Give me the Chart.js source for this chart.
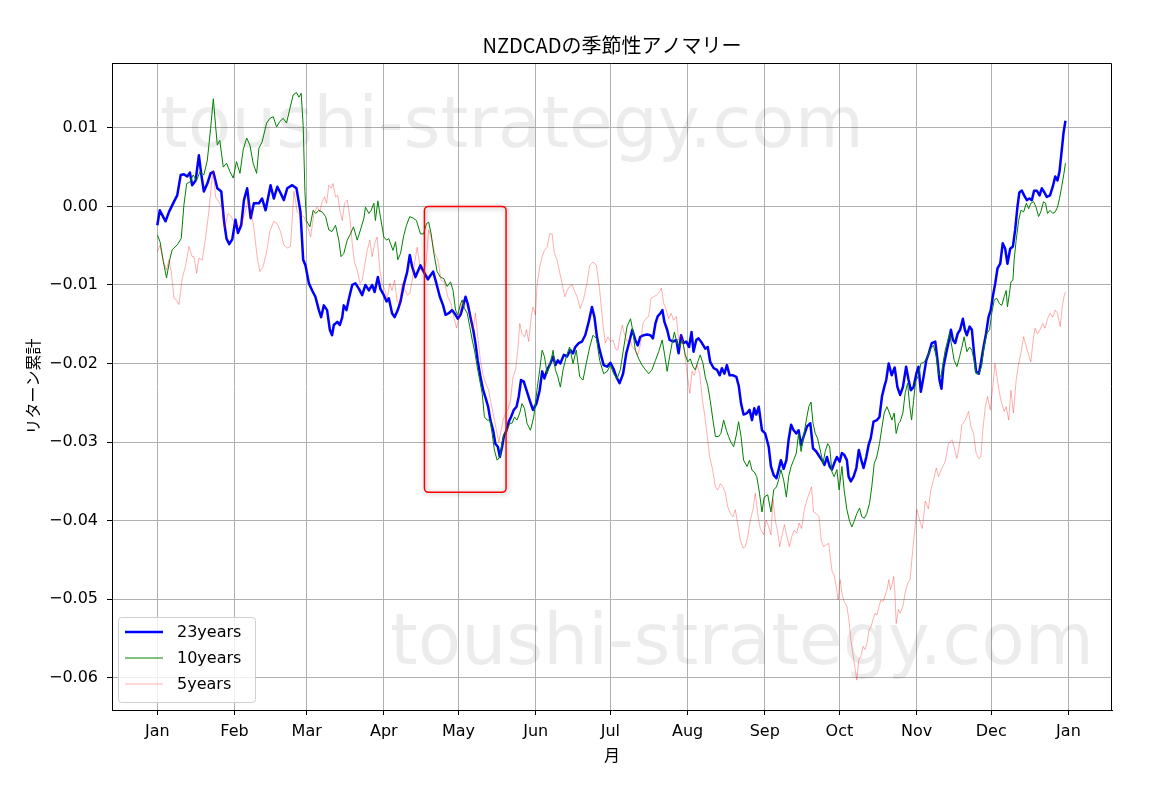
<!DOCTYPE html>
<html>
<head>
<meta charset="utf-8">
<script src="https://cdn.jsdelivr.net/npm/chart.js@4.4.0/dist/chart.umd.min.js"></script>
<style>
  body { margin: 0; background: #fff; }
  #wrap { width: 1156px; height: 789px; }
</style>
</head>
<body>
<div id="wrap"><canvas id="lineChart"></canvas></div>
<script>
// month ticks (day of year, leap year)
const monthLabels = ["Jan","Feb","Mar","Apr","May","Jun","Jul","Aug","Sep","Oct","Nov","Dec","Jan"];
const monthDays = [0, 31, 60, 91, 121, 152, 182, 213, 244, 274, 305, 335, 366];
const yTicks = [0.01, 0.00, -0.01, -0.02, -0.03, -0.04, -0.05, -0.06];

// 23 years
const days23 = [
  0,1,3.3,4.7,6.7,8,9.4,10.7,12,13.1,14,15.4,16.7,17.7,18.7,20.1,21.4,22.5,24.1,25.7,
  26.8,27.8,28.9,30.1,31.4,32.4,33.7,34.8,36.1,37.5,38.8,40.8,42.1,43.5,45.5,46.8,48.2,49.5,50.8,52.2,
  54.2,55.9,57.5,58.6,59.5,60.9,62.2,63.5,64.9,65.8,66.9,68.2,69.3,70.2,70.9,72.3,73.3,74.3,74.9,76,
  77,78.3,79.6,81,82.3,83.6,85,86.3,87.3,88.6,89.6,91,92.1,93,94.3,95.3,96.6,97.7,99,100.4,
  101.4,102.4,103.7,105.7,107,108.7,109.7,110.8,112.1,113.5,114.8,115.8,117.1,118.4,119.8,120.7,121.8,122.9,123.8,124.7,
  125.8,126.9,127.8,128.7,129.8,130.9,131.9,132.9,133.8,134.9,135.8,136.8,137.6,138.5,139.2,140.3,141.2,142.1,143.2,144.3,
  145.2,146.1,147.2,148.3,149.6,150.9,152.3,153.6,154.6,155.5,156.6,157.9,159,159.9,160.9,161.9,163.3,164.6,165.9,167,
  167.9,169.3,170.6,171.9,173.3,174.6,175.6,176.6,177.7,179.3,180.7,182,183.3,184.4,185.7,187.1,188.4,189.8,190.8,192,
  193,194,195.4,196.7,198.1,199.1,200.1,201,202.1,202.9,203.7,204.8,205.8,207.2,208.5,209.4,210.4,211.4,212.5,213.6,
  214.6,215.4,216.5,217.4,218.8,220.1,221.1,222.1,223.5,224.8,225.9,226.8,227.8,228.8,229.9,231.3,232.6,233.6,234.5,235.5,
  236.9,237.9,238.9,239.8,240.6,241.6,242.9,244.2,245.6,246.5,247.6,248.7,249.6,250.5,251.6,252.7,253.6,254.6,255.6,256.7,
  257.6,258.6,259.6,261,262.3,263.4,264.7,266.1,267,268,269,270.1,271,271.9,273,274.1,275,275.9,277,277.7,
  278.6,279.7,280.8,281.8,282.8,283.7,284.8,285.7,286.6,287.7,289.1,290.1,291.1,292,292.8,293.8,295,296.2,297.3,298.4,
  299.5,300.8,301.8,302.7,303.8,304.9,305.8,306.7,307.8,308.9,309.9,311.1,312.5,313.4,314.2,315,315.8,316.9,317.8,318.8,
  319.6,320.5,321.5,322.5,323.6,324.4,325.2,326.3,327.2,328.1,328.9,330,330.8,331.9,332.9,333.9,334.8,335.6,336.6,337.5,
  338.6,339.6,340.6,341.5,342.6,343.7,344.6,345.5,346.3,347.3,348.2,349.3,350.3,351.3,352.2,353.3,354.4,355.3,356.3,357.3,
  358.6,359.7,360.7,361.6,362.4,363.3,364,364.8
];
const ret23 = [
  -0.0024,-0.0005,-0.0019,-0.0007,0.0006,0.0014,0.0040,0.0041,0.0038,0.0043,0.0027,0.0033,0.0065,0.0040,0.0019,0.0029,0.0042,0.0044,0.0023,0.0019,
  -0.0019,-0.0041,-0.0048,-0.0042,-0.0017,-0.0034,-0.0024,0.0008,0.0023,-0.0015,0.0004,0.0004,0.0010,-0.0005,0.0027,0.0010,0.0025,0.0017,0.0008,0.0023,
  0.0027,0.0023,-0.0007,-0.0068,-0.0075,-0.0098,-0.0107,-0.0115,-0.0132,-0.0141,-0.0126,-0.0132,-0.0157,-0.0164,-0.0151,-0.0147,-0.0151,-0.0141,-0.0126,-0.0132,
  -0.0117,-0.0100,-0.0098,-0.0105,-0.0113,-0.0100,-0.0107,-0.0100,-0.0109,-0.0090,-0.0105,-0.0113,-0.0121,-0.0117,-0.0136,-0.0141,-0.0132,-0.0121,-0.0100,-0.0083,
  -0.0062,-0.0077,-0.0090,-0.0075,-0.0083,-0.0093,-0.0088,-0.0083,-0.0098,-0.0115,-0.0126,-0.0138,-0.0136,-0.0132,-0.0138,-0.0143,-0.0138,-0.0126,-0.0115,-0.0124,
  -0.0141,-0.0157,-0.0174,-0.0196,-0.0217,-0.0234,-0.0244,-0.0255,-0.0272,-0.0285,-0.0302,-0.0306,-0.0319,-0.0306,-0.0293,-0.0285,-0.0274,-0.0268,-0.0259,-0.0255,
  -0.0242,-0.0221,-0.0223,-0.0234,-0.0247,-0.0259,-0.0251,-0.0234,-0.0210,-0.0219,-0.0208,-0.0200,-0.0191,-0.0202,-0.0196,-0.0200,-0.0189,-0.0191,-0.0183,-0.0187,
  -0.0179,-0.0174,-0.0172,-0.0164,-0.0147,-0.0128,-0.0141,-0.0166,-0.0183,-0.0202,-0.0204,-0.0199,-0.0207,-0.0217,-0.0225,-0.0213,-0.0187,-0.0170,-0.0157,-0.0170,
  -0.0177,-0.0166,-0.0164,-0.0163,-0.0164,-0.0168,-0.0149,-0.0140,-0.0136,-0.0132,-0.0147,-0.0157,-0.0170,-0.0172,-0.0170,-0.0187,-0.0164,-0.0174,-0.0172,-0.0179,
  -0.0160,-0.0185,-0.0170,-0.0168,-0.0174,-0.0181,-0.0179,-0.0198,-0.0206,-0.0208,-0.0215,-0.0206,-0.0213,-0.0202,-0.0215,-0.0215,-0.0217,-0.0229,-0.0251,-0.0265,
  -0.0263,-0.0259,-0.0272,-0.0257,-0.0265,-0.0255,-0.0285,-0.0289,-0.0306,-0.0331,-0.0342,-0.0346,-0.0335,-0.0323,-0.0334,-0.0323,-0.0297,-0.0278,-0.0285,-0.0289,
  -0.0285,-0.0304,-0.0293,-0.0280,-0.0276,-0.0308,-0.0312,-0.0319,-0.0323,-0.0329,-0.0319,-0.0331,-0.0335,-0.0327,-0.0319,-0.0325,-0.0314,-0.0316,-0.0323,-0.0344,
  -0.0350,-0.0344,-0.0333,-0.0310,-0.0323,-0.0333,-0.0319,-0.0304,-0.0295,-0.0274,-0.0272,-0.0268,-0.0242,-0.0230,-0.0221,-0.0200,-0.0215,-0.0205,-0.0230,-0.0240,
  -0.0230,-0.0204,-0.0221,-0.0234,-0.0230,-0.0213,-0.0204,-0.0236,-0.0217,-0.0196,-0.0187,-0.0174,-0.0172,-0.0196,-0.0221,-0.0232,-0.0204,-0.0187,-0.0174,-0.0157,
  -0.0170,-0.0174,-0.0162,-0.0157,-0.0143,-0.0157,-0.0164,-0.0153,-0.0157,-0.0187,-0.0210,-0.0213,-0.0200,-0.0179,-0.0162,-0.0141,-0.0132,-0.0115,-0.0098,-0.0079,
  -0.0073,-0.0047,-0.0054,-0.0073,-0.0054,-0.0051,-0.0030,-0.0001,0.0018,0.0020,0.0014,0.0008,0.0010,0.0008,0.0020,0.0020,0.0014,0.0023,0.0018,0.0012,
  0.0014,0.0025,0.0038,0.0033,0.0044,0.0071,0.0093,0.0109
];

// 10 years
const days10 = [
  0,1.1,2.4,3.7,5.1,6,8,9.6,10.7,11.8,13.1,14.4,15.8,17.1,18.7,20.1,21.4,22.5,23.4,24.1,
  25.1,26.5,27.8,29.2,30.5,31.8,33.2,34.5,35.9,37.2,38.5,39.9,40.8,42.1,43.9,45.2,46.6,47.9,49.2,50.6,
  51.9,53.3,54.6,55.9,56.9,57.8,58.6,59.3,59.9,61.3,62.6,63.6,64.9,66.2,67.6,68.9,70.2,71.6,72.9,73.8,
  74.9,76.3,77.6,78.8,80.3,81.6,83,83.6,85,85.9,87,87.6,88.6,89.6,91,92.1,93,93.6,94.7,95.7,
  96.6,97.7,99,100.1,101.4,102.8,104.1,105.7,107,108.1,109,110,111.1,112.4,113.7,115.1,116.4,117.8,118.8,119.8,
  120.7,121.8,122.5,123.4,124.5,125.5,126.5,127.4,128.5,129.5,130.5,131.4,132.5,133.6,134.5,135.4,136.5,137.6,138.5,139.4,
  140.5,141.6,142.5,143.5,144.5,145.6,146.5,147.5,148.5,149.9,151.2,152.5,153.6,154.6,155.5,156.6,157.9,159,159.9,160.9,
  161.9,163,164.3,165.6,167,168.3,169.7,171,172.3,173.7,175,176.4,177.7,179.3,180.7,182,183.3,184.7,186,187.4,
  188.7,190.1,191.1,192,193.4,194.7,196.1,197.4,198.7,200.1,201.4,202.8,203.7,204.8,205.8,206.8,207.7,208.8,209.8,210.9,
  212.1,213.1,214.1,215.2,216.1,217.1,218.1,219.2,220.1,221.1,222.1,223.2,224.2,225.5,226.4,227.5,228.6,229.5,230.4,231.5,
  232.6,233.5,234.5,235.5,236.9,237.9,238.9,239.8,240.8,241.9,242.9,243.8,245.2,246.5,247.6,248.7,249.6,250.5,251.6,252.7,
  253.6,254.6,255.6,256.7,257.6,258.6,259.6,260.7,261.7,262.6,263.4,264.3,265.2,266.3,267.4,268.3,269.3,270.1,271,271.9,
  273,273.9,275,275.9,277,278.1,279,279.9,281,282.1,283,284,285,286.1,287,288,289,290.1,291,292,
  293.1,294.1,295.1,296,296.8,297.8,298.4,299.5,300.4,301.4,302.2,303,303.8,304.6,305.8,306.7,308.1,309.4,310.7,311.8,
  312.9,313.8,314.8,315.6,316.5,317.4,318.2,319.2,320.1,321.2,322.3,323.2,324.1,325.2,326.3,327.2,328.1,328.9,330,331.1,
  332.1,333.2,334.3,335.2,336.2,337.2,338.3,339.2,340.2,341,341.5,342.3,342.9,343.7,344.2,345,346,346.9,348,349.1,
  350,350.9,352,353,354,354.9,356,356.8,357.6,358.6,359.7,360.7,361.6,362.4,363.3,364.2,364.8
];
const ret10 = [
  -0.0036,-0.0045,-0.0070,-0.0091,-0.0066,-0.0055,-0.0049,-0.0041,0.0002,0.0029,0.0031,0.0040,0.0033,0.0044,0.0040,0.0059,0.0099,0.0137,0.0103,0.0078,
  0.0084,0.0050,0.0055,0.0044,0.0036,0.0057,0.0042,0.0072,0.0087,0.0078,0.0055,0.0042,0.0074,0.0082,0.0106,0.0112,0.0114,0.0101,0.0108,0.0112,
  0.0106,0.0125,0.0142,0.0145,0.0139,0.0144,0.0103,0.0019,-0.0018,-0.0026,-0.0005,-0.0009,-0.0005,-0.0007,-0.0013,-0.0030,-0.0032,-0.0024,-0.0043,-0.0064,
  -0.0060,-0.0043,-0.0035,-0.0026,-0.0043,-0.0030,-0.0015,-0.0001,-0.0009,-0.0005,0.0004,-0.0018,0.0007,-0.0013,-0.0039,-0.0043,-0.0041,-0.0047,-0.0056,-0.0045,
  -0.0068,-0.0060,-0.0037,-0.0024,-0.0013,-0.0015,-0.0018,-0.0035,-0.0035,-0.0022,-0.0020,-0.0035,-0.0060,-0.0083,-0.0090,-0.0092,-0.0102,-0.0096,-0.0107,-0.0132,
  -0.0138,-0.0124,-0.0119,-0.0130,-0.0136,-0.0153,-0.0170,-0.0183,-0.0204,-0.0221,-0.0238,-0.0268,-0.0272,-0.0272,-0.0289,-0.0310,-0.0323,-0.0319,-0.0300,-0.0289,
  -0.0285,-0.0276,-0.0276,-0.0268,-0.0272,-0.0263,-0.0251,-0.0257,-0.0276,-0.0285,-0.0268,-0.0234,-0.0208,-0.0183,-0.0191,-0.0213,-0.0200,-0.0183,-0.0208,-0.0217,
  -0.0230,-0.0208,-0.0191,-0.0179,-0.0200,-0.0183,-0.0217,-0.0221,-0.0200,-0.0179,-0.0164,-0.0168,-0.0196,-0.0213,-0.0210,-0.0202,-0.0213,-0.0219,-0.0208,-0.0179,
  -0.0153,-0.0143,-0.0160,-0.0183,-0.0194,-0.0202,-0.0208,-0.0213,-0.0208,-0.0196,-0.0185,-0.0170,-0.0187,-0.0210,-0.0191,-0.0174,-0.0160,-0.0174,-0.0179,-0.0170,
  -0.0189,-0.0198,-0.0194,-0.0204,-0.0208,-0.0198,-0.0189,-0.0200,-0.0217,-0.0228,-0.0247,-0.0272,-0.0293,-0.0293,-0.0289,-0.0272,-0.0285,-0.0293,-0.0300,-0.0306,
  -0.0291,-0.0274,-0.0293,-0.0323,-0.0331,-0.0323,-0.0336,-0.0338,-0.0344,-0.0365,-0.0389,-0.0370,-0.0367,-0.0389,-0.0361,-0.0357,-0.0348,-0.0335,-0.0348,-0.0370,
  -0.0344,-0.0331,-0.0323,-0.0314,-0.0289,-0.0312,-0.0293,-0.0272,-0.0255,-0.0249,-0.0276,-0.0289,-0.0295,-0.0310,-0.0327,-0.0312,-0.0302,-0.0306,-0.0338,-0.0344,
  -0.0335,-0.0361,-0.0331,-0.0361,-0.0386,-0.0401,-0.0408,-0.0401,-0.0391,-0.0384,-0.0395,-0.0397,-0.0391,-0.0378,-0.0357,-0.0327,-0.0319,-0.0302,-0.0283,-0.0263,
  -0.0255,-0.0263,-0.0272,-0.0263,-0.0289,-0.0276,-0.0274,-0.0263,-0.0238,-0.0225,-0.0253,-0.0272,-0.0247,-0.0223,-0.0215,-0.0200,-0.0198,-0.0191,-0.0181,-0.0177,
  -0.0191,-0.0213,-0.0217,-0.0200,-0.0183,-0.0172,-0.0162,-0.0179,-0.0196,-0.0204,-0.0191,-0.0179,-0.0166,-0.0185,-0.0179,-0.0183,-0.0196,-0.0213,-0.0213,-0.0204,
  -0.0179,-0.0162,-0.0157,-0.0136,-0.0119,-0.0117,-0.0124,-0.0126,-0.0115,-0.0107,-0.0128,-0.0111,-0.0096,-0.0094,-0.0068,-0.0043,-0.0018,-0.0005,-0.0007,0.0004,
  -0.0003,0.0004,0.0006,-0.0001,-0.0013,-0.0007,0.0006,0.0004,-0.0009,-0.0005,-0.0009,-0.0007,-0.0001,0.0010,0.0025,0.0042,0.0055
];

// 5 years
const days5 = [
  0,1.1,2.4,3.7,4.7,5.6,6.7,7.7,8.7,10,11.4,12.7,14,14.7,15.8,16.7,18.1,19.4,20.7,21.7,
  22.5,23.4,24.7,26.1,27,28.4,29.7,31,32.4,33.7,35.1,36.4,37.5,38.8,40.1,41.2,42.5,43.9,45.2,46.8,
  48.2,49.5,50.8,52.2,53.5,54.9,56.2,57.5,58.9,60.2,61.6,62.9,64.2,65.3,66.2,67.2,68,68.9,69.9,70.6,
  71.6,72.5,73.3,74.3,75.2,76.3,77.3,78.3,79.2,80.3,81.4,82.3,83.2,84.3,85.4,86.3,87.3,88.3,89.4,90.3,
  91.3,92.3,93.4,94.3,95.3,96.3,97.3,98.4,99.3,100.4,101.4,102.4,103.3,104.4,105.7,107,108.1,109,110,111.3,
  112.7,114,115.3,116.7,118,119.1,120.2,121.2,122.5,123.4,124.5,125.8,126.9,127.8,128.7,129.8,130.9,131.9,133.1,134.1,
  135.2,136.2,137.2,138.1,138.9,139.9,140.8,141.9,142.9,143.9,144.8,145.6,146.5,147.5,148.3,149.2,150.2,150.9,151.9,152.5,
  153.6,154.6,155.5,156.6,157.6,158.6,159.5,160.6,161.7,162.6,163.7,164.6,165.6,166.7,167.5,168.6,169.9,171.3,172.6,173.7,
  175,176.4,177.7,179.1,180,181,182,183.1,184,185,185.8,186.8,187.6,188.7,189.8,190.8,192,193,194,195.1,
  196.2,197.4,198.3,199.4,200.5,201.5,202.5,203.4,204.5,205.4,206.4,207.4,208.5,209.4,210.4,211.4,212.3,213.1,213.9,214.8,
  215.7,216.8,217.9,218.8,219.8,220.8,221.9,223,224.2,225.1,226.2,227.2,228.2,229.1,230.2,231.2,232.2,233.1,234.2,235.3,
  236.2,237.2,238.2,239.3,240.2,241.2,242.2,243.6,244.6,245.6,246.5,247.3,248.2,249.2,250,250.9,251.9,252.9,253.9,254.9,
  255.9,256.9,257.8,258.8,259.9,260.9,261.9,262.8,263.6,264.7,265.8,266.7,267.6,268.7,269.7,270.3,271.1,271.9,272.7,273.5,
  274.3,275,275.9,277,277.8,278.6,279.4,280.2,281,281.8,282.6,283.5,284.3,285.1,285.9,286.7,287.5,288.3,289.1,289.9,
  290.7,291.5,292.3,293.1,293.9,294.5,295.1,295.8,296.3,296.8,297.7,298.4,299.5,300.4,301.4,302.4,303.2,304,305.1,306.2,
  307.3,308.5,309.7,310.8,311.8,312.9,313.8,315.2,316.5,317.8,319.2,320.1,321.2,322.3,323.2,324.5,325.9,326.8,327.9,328.9,
  330,330.8,331.6,332.6,333.5,334.6,335.6,336.5,337.3,338.3,339.2,340.2,341,342,342.9,343.9,345,346,346.9,348,
  349.1,350,350.9,351.7,352.6,353.6,354.6,355.7,356.6,357.6,358.6,359.7,360.7,361.6,362.7,363.5,364.2,364.8
];
const ret5 = [
  -0.0058,-0.0049,-0.0070,-0.0081,-0.0068,-0.0083,-0.0117,-0.0119,-0.0125,-0.0092,-0.0075,-0.0051,-0.0064,-0.0064,-0.0085,-0.0066,-0.0068,-0.0039,-0.0007,0.0027,
  0.0046,0.0012,0.0006,-0.0003,-0.0028,-0.0009,-0.0013,-0.0022,-0.0024,-0.0024,-0.0009,0.0006,-0.0003,-0.0028,-0.0064,-0.0083,-0.0077,-0.0058,-0.0032,-0.0019,
  -0.0022,-0.0032,-0.0049,-0.0053,-0.0051,0.0019,-0.0007,-0.0011,-0.0013,-0.0024,-0.0039,-0.0009,-0.0001,-0.0007,0.0006,0.0012,0.0004,0.0027,0.0023,0.0029,
  0.0012,0.0014,-0.0005,-0.0018,0.0004,0.0008,-0.0013,-0.0047,-0.0071,-0.0081,-0.0098,-0.0094,-0.0077,-0.0056,-0.0043,-0.0064,-0.0047,-0.0039,-0.0081,-0.0098,
  -0.0105,-0.0117,-0.0098,-0.0107,-0.0094,-0.0121,-0.0124,-0.0098,-0.0105,-0.0113,-0.0111,-0.0094,-0.0073,-0.0052,-0.0080,-0.0085,-0.0068,-0.0030,-0.0039,-0.0058,
  -0.0068,-0.0094,-0.0096,-0.0115,-0.0124,-0.0141,-0.0155,-0.0141,-0.0121,-0.0124,-0.0128,-0.0141,-0.0157,-0.0136,-0.0166,-0.0196,-0.0215,-0.0225,-0.0234,-0.0251,
  -0.0268,-0.0285,-0.0300,-0.0285,-0.0272,-0.0263,-0.0259,-0.0247,-0.0217,-0.0208,-0.0183,-0.0149,-0.0162,-0.0166,-0.0157,-0.0172,-0.0141,-0.0128,-0.0138,-0.0102,
  -0.0077,-0.0064,-0.0056,-0.0052,-0.0035,-0.0035,-0.0060,-0.0068,-0.0085,-0.0098,-0.0115,-0.0107,-0.0102,-0.0100,-0.0107,-0.0115,-0.0130,-0.0117,-0.0098,-0.0075,
  -0.0071,-0.0075,-0.0107,-0.0153,-0.0174,-0.0166,-0.0172,-0.0170,-0.0181,-0.0183,-0.0166,-0.0151,-0.0162,-0.0172,-0.0168,-0.0179,-0.0183,-0.0189,-0.0177,-0.0149,
  -0.0143,-0.0140,-0.0117,-0.0115,-0.0113,-0.0110,-0.0104,-0.0123,-0.0132,-0.0143,-0.0136,-0.0145,-0.0140,-0.0170,-0.0164,-0.0177,-0.0200,-0.0219,-0.0238,-0.0210,
  -0.0215,-0.0202,-0.0213,-0.0242,-0.0264,-0.0289,-0.0319,-0.0334,-0.0357,-0.0361,-0.0353,-0.0357,-0.0365,-0.0382,-0.0391,-0.0395,-0.0386,-0.0403,-0.0425,-0.0435,
  -0.0433,-0.0420,-0.0399,-0.0386,-0.0365,-0.0391,-0.0410,-0.0418,-0.0399,-0.0408,-0.0418,-0.0372,-0.0399,-0.0414,-0.0433,-0.0420,-0.0405,-0.0420,-0.0433,-0.0420,
  -0.0412,-0.0416,-0.0403,-0.0410,-0.0386,-0.0374,-0.0365,-0.0357,-0.0389,-0.0391,-0.0395,-0.0425,-0.0433,-0.0431,-0.0429,-0.0446,-0.0465,-0.0469,-0.0484,-0.0501,
  -0.0475,-0.0492,-0.0503,-0.0509,-0.0526,-0.0552,-0.0569,-0.0586,-0.0603,-0.0577,-0.0573,-0.0560,-0.0564,-0.0556,-0.0539,-0.0535,-0.0526,-0.0518,-0.0520,-0.0509,
  -0.0501,-0.0503,-0.0496,-0.0488,-0.0475,-0.0488,-0.0482,-0.0471,-0.0492,-0.0531,-0.0513,-0.0518,-0.0509,-0.0492,-0.0480,-0.0475,-0.0446,-0.0420,-0.0386,-0.0399,
  -0.0410,-0.0375,-0.0385,-0.0360,-0.0348,-0.0333,-0.0344,-0.0333,-0.0325,-0.0302,-0.0297,-0.0306,-0.0321,-0.0302,-0.0278,-0.0272,-0.0261,-0.0280,-0.0289,-0.0314,
  -0.0321,-0.0319,-0.0285,-0.0255,-0.0242,-0.0259,-0.0230,-0.0200,-0.0217,-0.0238,-0.0251,-0.0261,-0.0255,-0.0272,-0.0234,-0.0263,-0.0221,-0.0200,-0.0187,-0.0166,
  -0.0179,-0.0189,-0.0198,-0.0174,-0.0155,-0.0162,-0.0157,-0.0149,-0.0155,-0.0143,-0.0136,-0.0141,-0.0132,-0.0136,-0.0153,-0.0128,-0.0115,-0.0109
];

// highlighted window (Apr 17 - May 20)
const boxDays = [107.3, 140.1];
const boxRets = [0.0, -0.0364];

const watermarkText = "toushi-strategy.com";

function toPoints(days, rets) {
    return days.map(function(d, i) { return { x: d, y: rets[i] }; });
}

// top and right edges of the plot frame (left/bottom come from the axes)
const framePlugin = {
    id: 'frame',
    afterDraw: function(chart) {
        const a = chart.chartArea, ctx = chart.ctx;
        ctx.save();
        ctx.strokeStyle = '#000';
        ctx.lineWidth = 1;
        ctx.beginPath();
        ctx.moveTo(a.left, Math.round(a.top) + 0.5);
        ctx.lineTo(Math.round(a.right) - 0.5, Math.round(a.top) + 0.5);
        ctx.lineTo(Math.round(a.right) - 0.5, a.bottom);
        ctx.stroke();
        ctx.restore();
    }
};

const watermarkPlugin = {
    id: 'watermark',
    beforeDatasetsDraw: function(chart) {
        const a = chart.chartArea, ctx = chart.ctx;
        ctx.save();
        ctx.font = '71px "DejaVu Sans"';
        ctx.fillStyle = 'rgba(0,0,0,0.075)';
        ctx.textBaseline = 'alphabetic';
        ctx.textAlign = 'left';
        ctx.fillText(watermarkText, a.left + 48, a.top + 84);
        ctx.fillText(watermarkText, a.left + 278, a.top + 601);
        ctx.restore();
    }
};

const boxPlugin = {
    id: 'redBox',
    afterDatasetsDraw: function(chart) {
        const xs = chart.scales.x, ys = chart.scales.y, ctx = chart.ctx;
        const l = xs.getPixelForValue(boxDays[0]), r = xs.getPixelForValue(boxDays[1]);
        const t = ys.getPixelForValue(boxRets[0]), b = ys.getPixelForValue(boxRets[1]);
        ctx.save();
        ctx.shadowColor = 'rgba(0,0,0,0.35)';
        ctx.shadowBlur = 5;
        ctx.shadowOffsetX = 1;
        ctx.shadowOffsetY = 1;
        ctx.strokeStyle = '#ff0000';
        ctx.lineWidth = 1.5;
        ctx.beginPath();
        ctx.roundRect(l, t, r - l, b - t, 4);
        ctx.stroke();
        ctx.restore();
    }
};

const legendPlugin = {
    id: 'boxLegend',
    afterDraw: function(chart) {
        const a = chart.chartArea, ctx = chart.ctx;
        const x0 = a.left + 6, y0 = a.bottom - 93;
        ctx.save();
        ctx.fillStyle = 'rgba(255,255,255,0.8)';
        ctx.strokeStyle = '#d0d0d0';
        ctx.lineWidth = 1;
        ctx.beginPath();
        ctx.roundRect(x0 + 0.5, y0 + 0.5, 137, 85, 3);
        ctx.fill();
        ctx.stroke();
        chart.data.datasets.forEach(function(ds, i) {
            const y = y0 + 15 + i * 26;
            ctx.strokeStyle = ds.borderColor;
            ctx.lineWidth = ds.borderWidth;
            ctx.beginPath();
            ctx.moveTo(x0 + 7, y);
            ctx.lineTo(x0 + 45, y);
            ctx.stroke();
            ctx.fillStyle = '#000';
            ctx.font = '16px "DejaVu Sans"';
            ctx.textBaseline = 'middle';
            ctx.fillText(ds.label, x0 + 59, y + 1);
        });
        ctx.restore();
    }
};

const tickFont = { family: '"DejaVu Sans"', size: 16 };
const jpFont = { family: '"Noto Sans CJK JP"', size: 16 };
const gridStyle = { color: '#b0b0b0', tickColor: '#000', tickLength: 5, lineWidth: 1 };

var lineChart = new Chart(document.getElementById("lineChart"), {
    type: 'line',
    data: {
        datasets: [
            { label: "23years", data: toPoints(days23, ret23), borderColor: "#0000ff", borderWidth: 2.5, order: 2 },
            { label: "10years", data: toPoints(days10, ret10), borderColor: "#008000", borderWidth: 1, order: 1 },
            { label: "5years", data: toPoints(days5, ret5), borderColor: "rgba(255,0,0,0.4)", borderWidth: 0.8, order: 0 }
        ]
    },
    options: {
        responsive: true,
        maintainAspectRatio: false,
        animation: false,
        layout: { padding: { left: 0, right: 44, top: 0, bottom: 0 } },
        elements: {
            point: { radius: 0 },
            line: { tension: 0, fill: false, borderJoinStyle: 'round' }
        },
        plugins: {
            legend: { display: false },
            tooltip: { enabled: false },
            title: {
                display: true,
                text: "NZDCADの季節性アノマリー",
                fullSize: false,
                color: '#000',
                font: { family: '"Noto Sans CJK JP"', size: 20, weight: 'normal' },
                padding: { top: 33, bottom: 6 }
            }
        },
        scales: {
            x: {
                type: 'linear',
                min: -18.2,
                max: 383.5,
                afterBuildTicks: function(s) { s.ticks = monthDays.map(function(v) { return { value: v }; }); },
                afterFit: function(s) { s.height = 79; },
                ticks: {
                    autoSkip: false, maxRotation: 0, padding: 7, color: '#000', font: tickFont,
                    callback: function(v) { return monthLabels[monthDays.indexOf(v)]; }
                },
                grid: gridStyle,
                border: { color: '#000', width: 1 },
                title: { display: true, text: "月", color: '#000', font: jpFont, padding: { top: 0, bottom: 24 } }
            },
            y: {
                min: -0.0641,
                max: 0.01825,
                afterBuildTicks: function(s) { s.ticks = yTicks.map(function(v) { return { value: v }; }); },
                afterFit: function(s) { s.width = 112; },
                ticks: {
                    padding: 9, color: '#000', font: tickFont,
                    callback: function(v) { return (v < 0 ? '\u2212' : '') + Math.abs(v).toFixed(2); }
                },
                grid: gridStyle,
                border: { color: '#000', width: 1 },
                title: { display: true, text: "リターン累計", color: '#000', font: jpFont, padding: { top: 23, bottom: 0 } }
            }
        }
    },
    plugins: [watermarkPlugin, boxPlugin, framePlugin, legendPlugin]
});
</script>
</body>
</html>
